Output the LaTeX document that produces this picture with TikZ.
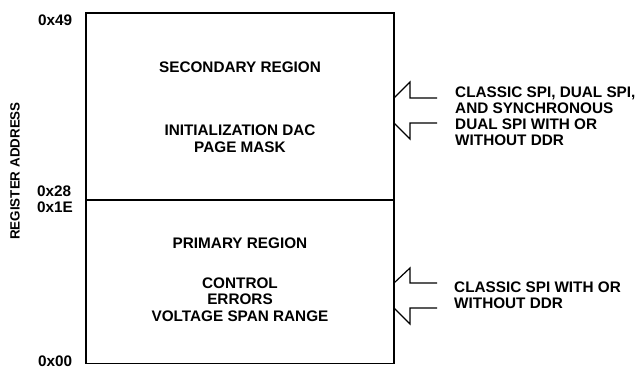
\documentclass[tikz,border=0pt]{standalone}
\usepackage{fontspec}
\setmainfont{Liberation Sans}
\begin{document}
\begin{tikzpicture}[x=1pt,y=-1pt,
  lbl/.style={font=\bfseries\fontsize{15.3}{16.6}\selectfont,inner sep=0pt,align=center},
  lbll/.style={font=\bfseries\fontsize{15.3}{16.2}\selectfont,inner sep=0pt,align=left},
  axislbl/.style={font=\bfseries\fontsize{13.4}{14}\selectfont,inner sep=0pt,rotate=90},
  frame/.style={line width=1.5pt},
  hollow/.style={line width=1.2pt,line join=miter}]
\useasboundingbox (0,0) rectangle (637,369);
% memory map box
\draw[frame] (86,13) rectangle (394,363.5);
\draw[frame] (86,200) coordinate (dl) -- (394,200) coordinate (dr);
% region texts
\node[lbl,anchor=north] (sec) at (240,61.5) {SECONDARY REGION};
\node[lbl,anchor=north] (secc) at (240,125) {INITIALIZATION DAC\\PAGE MASK};
\node[lbl,anchor=north] (pri) at (240,237.5) {PRIMARY REGION};
\node[lbl,anchor=north] (pric) at (240,277.5) {CONTROL\\ERRORS\\VOLTAGE SPAN RANGE};
% address labels
\node[lbll,anchor=base west] (a49) at (38,26) {0x49};
\node[lbll,anchor=base west] (a28) at (37,196.5) {0x28};
\node[lbll,anchor=base west] (a1e) at (37,212) {0x1E};
\node[lbll,anchor=base west] (a00) at (38,366.5) {0x00};
\node[axislbl] (ra) at (15,171) {REGISTER ADDRESS};
% interface arrows
\draw[hollow] (437,98) -- (410,98) -- (410,82) -- (394,98) -- (394,123) -- (410,139) -- (410,123) -- (437,123);
\draw[hollow] (437,283) -- (410,283) -- (410,268) -- (394,283) -- (394,308) -- (410,324) -- (410,308) -- (437,308);
% interface texts
\node[lbll,anchor=north west] (t1) at (455,86.5) {CLASSIC SPI, DUAL SPI,\\AND SYNCHRONOUS\\DUAL SPI WITH OR\\WITHOUT DDR};
\node[lbll,anchor=north west] (t2) at (454,281.5) {CLASSIC SPI WITH OR\\WITHOUT DDR};
\end{tikzpicture}
\end{document}
